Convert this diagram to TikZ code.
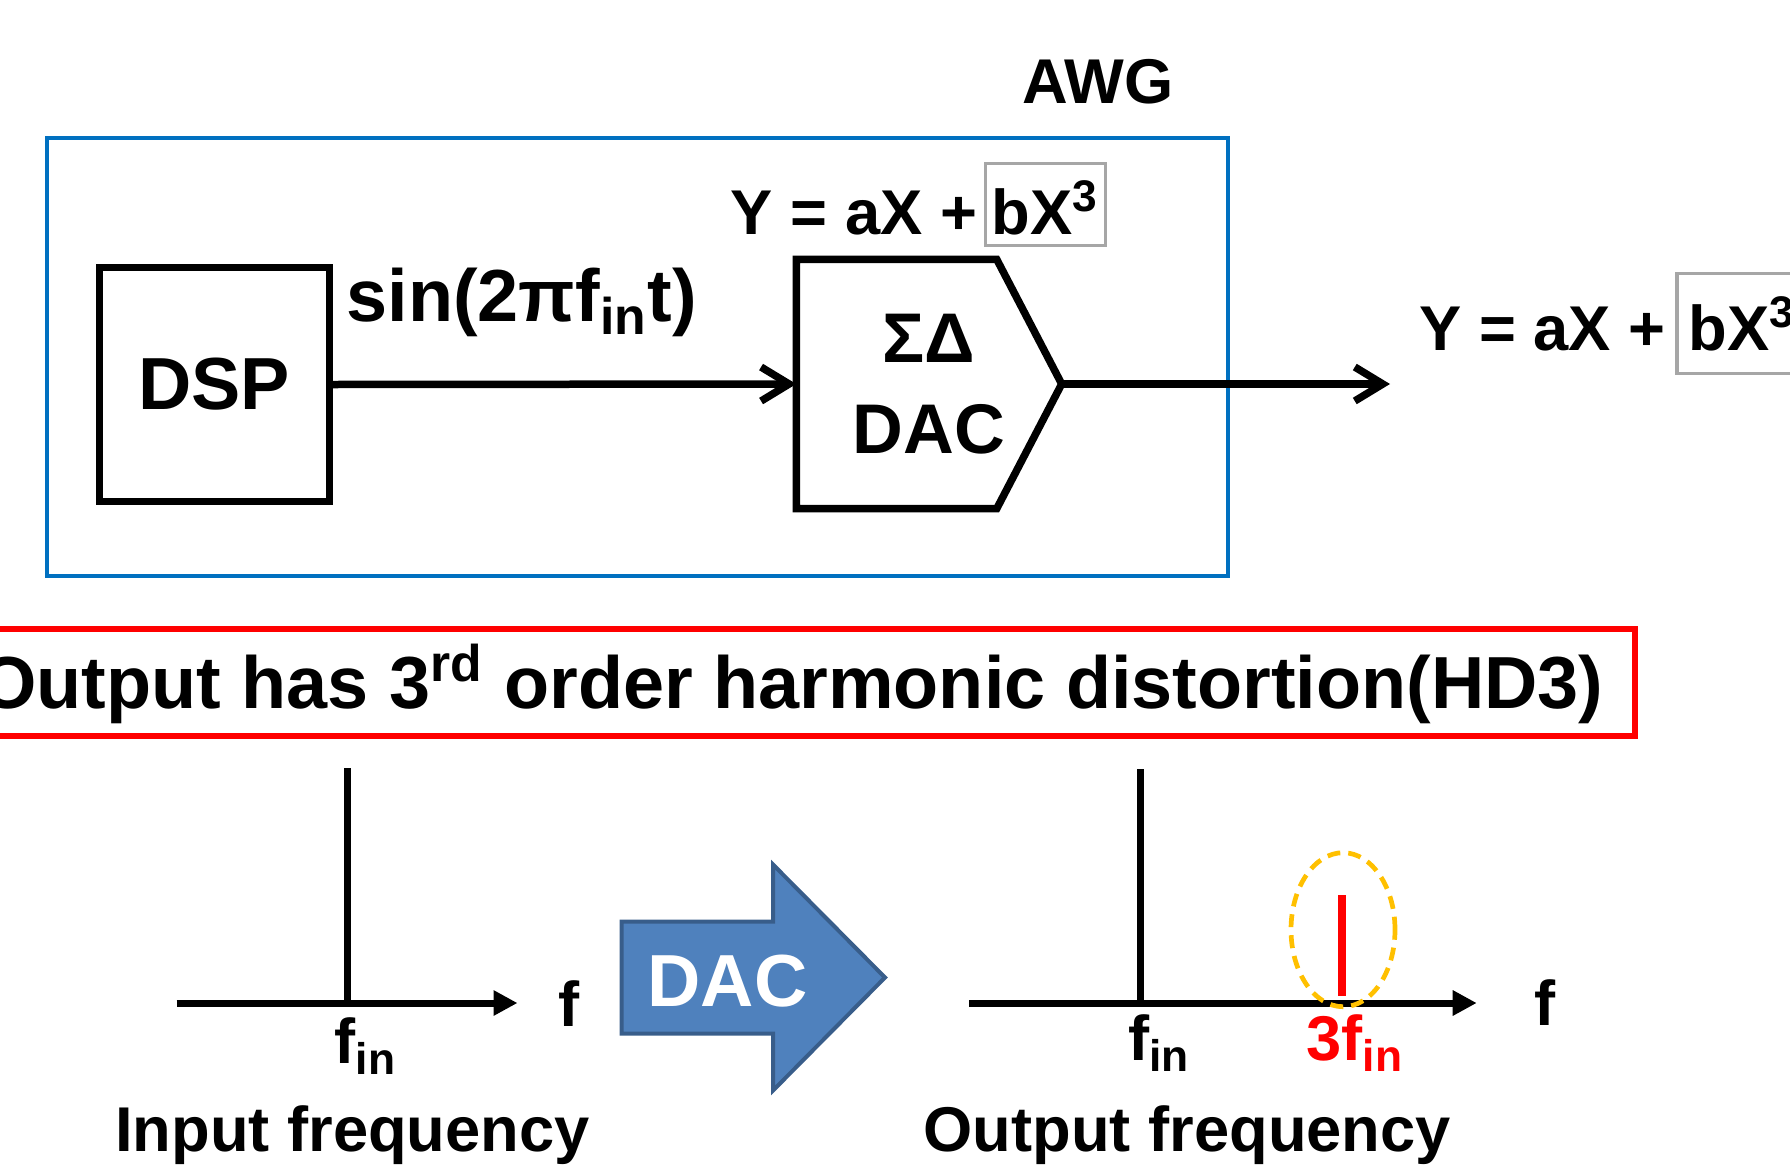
\documentclass[tikz,border=0pt]{standalone}
\usepackage{fontspec}
\setmainfont{Liberation Sans}
\usetikzlibrary{arrows.meta}

\definecolor{awgblue}{RGB}{0,112,192}
\definecolor{boxgray}{RGB}{166,166,166}
\definecolor{hdorange}{RGB}{255,192,0}
\definecolor{dacfill}{RGB}{79,129,189}
\definecolor{dacline}{RGB}{56,93,138}

\begin{document}
\begin{tikzpicture}[
  font=\bfseries\fontsize{18pt}{22pt}\selectfont,
  blk/.style={line width=0.075cm},
  sig/.style={line width=0.075cm, line cap=round, -{Straight Barb[length=0.28cm,width=0.34cm]}},
  axis/.style={line width=0.07cm, -{Triangle[length=0.24cm,width=0.24cm]}},
  spike/.style={line width=0.07cm},
  eqbox/.style={draw=boxgray, line width=0.033cm, inner sep=0pt, text depth=0pt},
  big/.style={font=\bfseries\fontsize{21pt}{25pt}\selectfont}
]
\useasboundingbox (0,0) rectangle (17.9,11.65);
\clip (0,0) rectangle (17.9,11.65);

% AWG block
\draw[awgblue, line width=0.04cm] (0.47,10.27) rectangle (12.28,5.893);
\node[anchor=base] (awg) at (10.98,10.614) {AWG};

\node[draw, blk, big, minimum width=2.30cm, minimum height=2.34cm] (dsp) at (2.143,7.805) {DSP};
\node[anchor=base west, inner sep=0pt, big] (sinlbl) at (3.46,8.433) {sin(2πf\textsubscript{in}t)};

\node[minimum width=2.64cm, minimum height=2.48cm, inner sep=0pt, align=center,
  font=\bfseries\fontsize{20pt}{26pt}\selectfont] (dac) at (9.29,7.81) {ΣΔ\\DAC};
\draw[blk] (dac.north west) -- ([xshift=-0.65cm]dac.north east) -- (dac.east)
  -- ([xshift=-0.65cm]dac.south east) -- (dac.south west) -- cycle;

\node[eqbox, minimum width=1.20cm, minimum height=0.82cm, text height=0.59cm] (boxa) at (10.455,9.605) {bX\textsuperscript{3}};
\node[anchor=base east, inner sep=0pt] (eqa) at ([xshift=-0.06cm]boxa.base west) {Y = aX +};

\draw[sig] (dsp.east) -- (dac.west);
\coordinate (awgout) at (13.90,7.81);
\draw[sig] (dac.east) -- (awgout);

\node[eqbox, minimum width=1.30cm, minimum height=1.00cm, text height=0.53cm] (boxb) at (17.42,8.415) {bX\textsuperscript{3}};
\node[anchor=base east, inner sep=0pt] (eqb) at ([xshift=-0.09cm]boxb.base west) {Y = aX +};

% HD3 banner
\draw[red, line width=0.06cm] (-0.3,5.36) rectangle (16.35,4.29);
\node[anchor=base east, inner sep=0pt, big] (hd3) at (16.04,4.57) {Output has 3\textsuperscript{rd} order harmonic distortion(HD3)};

% input spectrum
\coordinate (inleft) at (1.765,1.62);
\coordinate (infin) at (3.47,1.62);
\coordinate (inpeak) at (3.47,3.97);
\coordinate (inright) at (5.175,1.62);
\draw[axis] (inleft) -- (inright);
\draw[spike] (infin) -- (inpeak);
\node[anchor=base] (inf) at (5.695,1.383) {f};
\node[anchor=base west, inner sep=0pt] (infinlbl) at (3.34,1.02) {f\textsubscript{in}};
\node[anchor=base] (inlbl) at (3.526,0.133) {Input frequency};

% DAC arrow
\draw[dacline, fill=dacfill, line width=0.04cm] (6.217,2.435) -- (7.73,2.435) -- (7.73,3.005)
  -- (8.85,1.875) -- (7.73,0.745) -- (7.73,1.315) -- (6.217,1.315) -- cycle;
\node[anchor=base, text=white, big] (dactxt) at (7.274,1.583) {DAC};

% output spectrum
\coordinate (outleft) at (9.69,1.62);
\coordinate (outfin) at (11.40,1.62);
\coordinate (outpeak) at (11.40,3.96);
\coordinate (outright) at (14.767,1.62);
\coordinate (hdbot) at (13.42,1.693);
\coordinate (hdtop) at (13.42,2.70);
\draw[axis] (outleft) -- (outright);
\draw[spike] (outfin) -- (outpeak);
\draw[red, line width=0.08cm] (hdbot) -- (hdtop);
\draw[hdorange, line width=0.047cm, dash pattern=on 0.13cm off 0.08cm] (13.43,2.353) ellipse [x radius=0.52cm, y radius=0.77cm];
\node[anchor=base] (outf) at (15.45,1.40) {f};
\node[anchor=base west, inner sep=0pt] (outfinlbl) at (11.277,1.05) {f\textsubscript{in}};
\node[anchor=base west, inner sep=0pt, text=red] (hdlbl) at (13.06,1.05) {3f\textsubscript{in}};
\node[anchor=base west, inner sep=0pt] (outlbl) at (9.23,0.133) {Output frequency};
\end{tikzpicture}
\end{document}
